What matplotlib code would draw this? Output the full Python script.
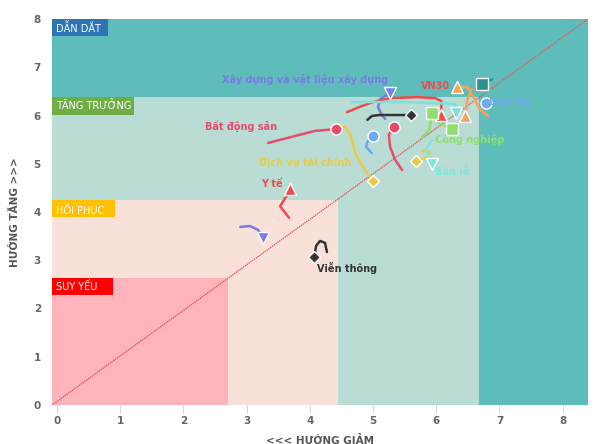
import matplotlib
matplotlib.use("Agg")
import matplotlib.pyplot as plt
from matplotlib.patches import Rectangle

# quadrant limits (x, y upper corner of each zone)
zone_names = ["DẪN DẮT", "TĂNG TRƯỞNG", "HỒI PHỤC", "SUY YẾU"]
zone_x = [8.4, 6.68, 4.45, 2.7]
zone_y = [8.0, 6.38, 4.25, 2.63]

# sector trails (last point = current position)
bds_x = [3.34, 3.69, 4.08, 4.41]
bds_y = [5.43, 5.55, 5.68, 5.72]
dvtc_x = [4.43, 4.56, 4.64, 4.73, 4.87, 5.0]
dvtc_y = [5.78, 5.76, 5.6, 5.18, 4.87, 4.64]
yte_x = [3.67, 3.53, 3.62, 3.69]
yte_y = [3.88, 4.12, 4.31, 4.48]
tim_x = [2.90, 3.05, 3.18, 3.26]
tim_y = [3.69, 3.71, 3.63, 3.46]
vt_x = [4.27, 4.24, 4.16, 4.10, 4.07]
vt_y = [3.17, 3.36, 3.40, 3.30, 3.07]
xd_x = [5.19, 5.14, 5.08, 5.11, 5.27]
xd_y = [5.93, 6.01, 6.17, 6.34, 6.47]
den_x = [4.91, 4.98, 5.10, 5.60]
den_y = [5.91, 5.99, 6.01, 6.01]
xanh_x = [4.98, 4.89, 4.91, 5.0]
xanh_y = [5.22, 5.35, 5.45, 5.58]
hong_x = [5.46, 5.35, 5.27, 5.25, 5.33]
hong_y = [4.87, 5.08, 5.35, 5.6, 5.76]
vn30_x = [4.59, 4.79, 5.0, 5.27, 5.7, 5.98, 6.08, 6.08, 6.07]
vn30_y = [6.07, 6.18, 6.28, 6.36, 6.38, 6.36, 6.3, 6.11, 6.01]
camA_x = [6.82, 6.69, 6.58, 6.49, 6.33]
camA_y = [5.99, 6.12, 6.4, 6.59, 6.59]
camB_x = [6.56, 6.49, 6.46]
camB_y = [6.55, 6.32, 5.99]
teal_x = [6.88, 6.72]
teal_y = [6.75, 6.65]
teal2_x = [4.67, 5.5, 6.3, 6.31]
teal2_y = [6.28, 6.28, 6.24, 6.05]
dk_x = [6.79]
dk_y = [6.26]
cnA_x = [5.78, 5.89, 5.93]
cnA_y = [5.55, 5.7, 6.05]
cnB_x = [6.01, 6.25]
cnB_y = [5.86, 5.72]
vang_x = [5.78, 5.84, 5.90, 5.87, 5.74, 5.68]
vang_y = [5.25, 5.29, 5.22, 5.14, 5.08, 5.06]
bl_x = [5.93, 5.84, 5.90, 5.93]
bl_y = [5.49, 5.29, 5.12, 4.99]

series = [
    (bds_x, bds_y, "#e94b6c", "o", "Bất động sản", (-59, 3), "right"),
    (dvtc_x, dvtc_y, "#e8cc45", "D", "Dịch vụ tài chính", (-68, 18), "center"),
    (yte_x, yte_y, "#ef4b4b", "^", "Y tế", (-18, 5), "center"),
    (tim_x, tim_y, "#7b7be8", "v", None, None, None),
    (vt_x, vt_y, "#333333", "D", "Viễn thông", (33, -11), "center"),
    (xd_x, xd_y, "#7b7be8", "v", "Xây dựng và vật liệu xây dựng", (-85, 13), "center"),
    (den_x, den_y, "#333333", "D", None, None, None),
    (xanh_x, xanh_y, "#6fa8f0", "o", None, None, None),
    (hong_x, hong_y, "#e94b6c", "o", None, None, None),
    (vn30_x, vn30_y, "#ef4b4b", "^", "VN30", (-5, 29), "center"),
    (camA_x, camA_y, "#f4a45c", "^", None, None, None),
    (camB_x, camB_y, "#f4a45c", "^", None, None, None),
    (teal_x, teal_y, "#2b908f", "s", None, None, None),
    (teal2_x, teal2_y, "#7ee0da", "v", None, None, None),
    (dk_x, dk_y, "#6fa8f0", "o", "Dầu khí", (3, 1), "left"),
    (cnA_x, cnA_y, "#8ee06e", "s", None, None, None),
    (cnB_x, cnB_y, "#8ee06e", "s", "Công nghiệp", (18, -10), "center"),
    (vang_x, vang_y, "#e8cc45", "D", None, None, None),
    (bl_x, bl_y, "#7ee8e0", "v", "Bán lẻ", (20, -8), "center"),
]

fig = plt.figure(figsize=(6.03, 4.44), dpi=100)
ax = fig.add_axes([52 / 603, 39 / 444, 536 / 603, 386 / 444])
xmin, xmax = -0.079, 8.4
ax.set_xlim(xmin, xmax)
ax.set_ylim(0, 8)

zone_colors = ["#5ebdbb", "#b9dcd5", "#f9e1da", "#ffb3ba"]
tag_colors = ["#2e75b6", "#70ad47", "#ffc000", "#ff0000"]
tag_w = [0.88, 1.3, 1.0, 0.96]
for name, zx, zy, zc, tc, tw in zip(zone_names, zone_x, zone_y, zone_colors, tag_colors, tag_w):
    ax.add_patch(Rectangle((xmin, 0), zx - xmin, zy, color=zc, zorder=0, lw=0))
    ax.add_patch(Rectangle((xmin, zy - 0.36), tw, 0.36, color=tc, zorder=1, lw=0))
    ax.text(xmin + 0.06, zy - 0.18, name, color="white", fontsize=7,
            va="center", ha="left", zorder=2)

ax.plot([xmin, xmax], [0, 8], color="#e25c5c", lw=1, ls=(0, (1, 0.6)), zorder=2)

for sx, sy, c, m, lab, off, ha in series:
    ax.plot(sx, sy, color=c, lw=1.8, zorder=3, solid_capstyle="round")
    ax.plot(sx[-1], sy[-1], marker=m, color=c, ms=8 if m != "D" else 6.5,
            mec="white", mew=1, zorder=4, ls="none")
    if lab:
        ax.annotate(lab, (sx[-1], sy[-1]), xytext=off, textcoords="offset pixels",
                    color=c, fontsize=7, fontweight="bold", ha=ha, va="center",
                    zorder=5)

for s in ax.spines.values():
    s.set_visible(False)
ax.set_xticks(range(0, 9))
ax.set_yticks(range(0, 9))
ax.tick_params(axis="x", length=6, color="#ccd6eb", labelsize=7.5, labelcolor="#666666", pad=2)
ax.tick_params(axis="y", length=0, labelsize=7.5, labelcolor="#666666", pad=8)
for t in ax.get_xticklabels() + ax.get_yticklabels():
    t.set_fontweight("bold")
ax.set_xlabel("<<< HƯỚNG GIẢM", fontsize=7.5, color="#555555", labelpad=6,
              fontweight="bold")
ax.set_ylabel("HƯỚNG TĂNG >>>", fontsize=7.5, color="#555555", labelpad=10,
              fontweight="bold")

fig.savefig("out.png", dpi=100)
